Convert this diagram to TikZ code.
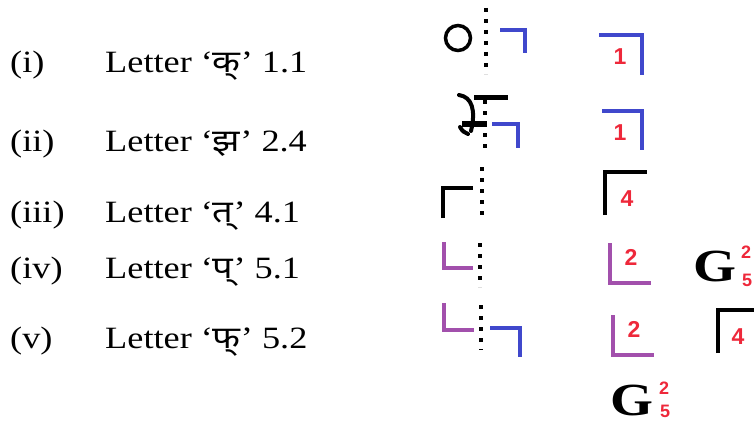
\documentclass[tikz,border=0pt]{standalone}
\usepackage{fontspec}
\setmainfont{Liberation Serif}
\newfontfamily\devfont[Script=Devanagari]{Noto Sans}
\newfontfamily\digfont{Liberation Sans}
\definecolor{bblue}{RGB}{64,72,204}
\definecolor{ppurple}{RGB}{162,80,172}
\definecolor{rred}{RGB}{238,40,58}
\tikzset{
  lbl/.style={anchor=base west,inner sep=0pt,xscale=1.17,font=\fontsize{31}{36}\selectfont},
  brk/.style={line width=3.5pt,line cap=butt,line join=miter},
  brkb/.style={brk,line width=4pt},
  dots/.style={line width=3.5pt,dash pattern=on 4pt off 7pt},
  dig/.style={inner sep=0pt,text=rred,font=\digfont\bfseries\fontsize{23}{24}\selectfont},
  sdig/.style={inner sep=0pt,text=rred,font=\digfont\bfseries\fontsize{18}{20}\selectfont},
  gg/.style={inner sep=0pt,anchor=base west,xscale=1.2,font=\bfseries\fontsize{46}{48}\selectfont}
}
\begin{document}
\begin{tikzpicture}[x=1pt,y=-1pt]
\useasboundingbox (0,0) rectangle (754,420);
% left list
\node[lbl] (n1) at (10,72) {(i)};
\node[lbl] (t1) at (105,72) {Letter ‘{\devfont\bfseries क्}’ 1.1};
\node[lbl] (n2) at (10,151) {(ii)};
\node[lbl] (t2) at (105,151) {Letter ‘{\devfont\bfseries झ}’ 2.4};
\node[lbl] (n3) at (10,222) {(iii)};
\node[lbl] (t3) at (105,222) {Letter ‘{\devfont\bfseries त्}’ 4.1};
\node[lbl] (n4) at (10,278) {(iv)};
\node[lbl] (t4) at (105,278) {Letter ‘{\devfont\bfseries प्}’ 5.1};
\node[lbl] (n5) at (10,348) {(v)};
\node[lbl] (t5) at (105,348) {Letter ‘{\devfont\bfseries फ्}’ 5.2};
% middle column
% row 1
\draw[line width=3.5pt] (458,38) circle (12.5);
\draw[dots] (486,8) -- (486,74);
\draw[brk,bblue] (500,30) -- (525,30) -- (525,53);
% row 2
\draw[line width=4pt,line cap=round] (459,95) .. controls (472,97) and (476,110) .. (471,131);
\draw[line width=4pt,line cap=round] (460,127) .. controls (462,131) and (465,133) .. (468,134);
\draw[line width=6pt] (462,124) -- (487,124);
\draw[line width=4.5pt] (474,97.5) -- (508,97.5);
\draw[dots] (485,100) -- (485,150);
\draw[brk,bblue] (492,124) -- (518,124) -- (518,148);
% row 3
\draw[dots] (482,167) -- (482,216);
\draw[brk] (443,218) -- (443,188) -- (473,188);
% row 4
\draw[brk,ppurple] (444,242) -- (444,268) -- (473,268);
\draw[dots] (480,243) -- (480,287);
% row 5
\draw[brk,ppurple] (444,303) -- (444,330) -- (474,330);
\draw[dots] (481,305) -- (481,350);
\draw[brk,bblue] (490,328) -- (520,328) -- (520,357);
% right column
\draw[brkb,bblue] (599,35) -- (642,35) -- (642,75);
\node[dig] (d1) at (620,57) {1};
\draw[brkb,bblue] (602,111) -- (642,111) -- (642,150);
\node[dig] (d2) at (620,133) {1};
\draw[brkb] (605,215) -- (605,172) -- (647,172);
\node[dig] (d3) at (627,199) {4};
\draw[brkb,ppurple] (610,243) -- (610,283) -- (651,283);
\node[dig] (d4) at (631,257) {2};
\node[gg] (g1) at (693,281) {G};
\node[sdig] (s1) at (746,252) {2};
\node[sdig] (s2) at (747,280) {5};
\draw[brkb,ppurple] (613,315) -- (613,355) -- (654,355);
\node[dig] (d5) at (634,329) {2};
\draw[brkb] (718,353) -- (718,310) -- (760,310);
\node[dig] (d6) at (738,337) {4};
\node[gg] (g2) at (610,415) {G};
\node[sdig] (s3) at (664,388) {2};
\node[sdig] (s4) at (665,411) {5};
\end{tikzpicture}
\end{document}
